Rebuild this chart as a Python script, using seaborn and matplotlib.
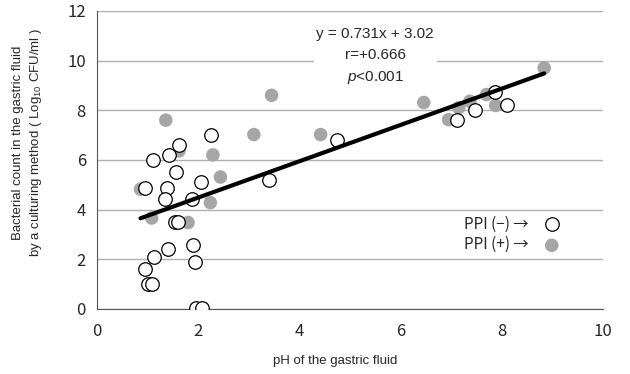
import numpy as np
import pandas as pd
import matplotlib
matplotlib.use("Agg")
import matplotlib.pyplot as plt
import seaborn as sns

# PPI (-) : open circles
ph_neg = [0.95, 1.10, 1.43, 1.63, 1.56, 1.38, 1.34, 1.88, 2.05, 2.26,
          1.54, 1.61, 1.41, 1.89, 1.93, 1.12, 0.95, 1.01, 1.08, 1.96, 2.08,
          3.39, 4.74, 7.11, 7.47, 7.87, 8.11]
cfu_neg = [4.88, 6.00, 6.20, 6.60, 5.52, 4.88, 4.42, 4.42, 5.10, 7.01,
           3.49, 3.49, 2.41, 2.59, 1.90, 2.09, 1.60, 1.00, 1.00, 0.02, 0.02,
           5.20, 6.81, 7.61, 8.02, 8.72, 8.21]

# PPI (+) : grey filled circles
ph_pos = [0.86, 1.08, 1.36, 1.62, 1.80, 2.24, 2.29, 2.44, 3.10, 3.45,
          4.42, 6.46, 6.95, 7.15, 7.37, 7.70, 7.88, 8.84]
cfu_pos = [4.82, 3.66, 7.60, 6.36, 3.48, 4.28, 6.20, 5.31, 7.02, 8.60,
           7.02, 8.31, 7.62, 8.10, 8.36, 8.63, 8.19, 9.70]

slope, intercept = 0.731, 3.02
stats_text = "y = 0.731x + 3.02\nr=+0.666\n$p$<0.001"

sns.set_style("white")
plt.rcParams['font.family'] = ['Noto Sans CJK JP', 'DejaVu Sans']
plt.rcParams['axes.unicode_minus'] = False
plt.rcParams['mathtext.fontset'] = 'custom'
plt.rcParams['mathtext.it'] = 'Liberation Sans:italic'
plt.rcParams['mathtext.rm'] = 'Liberation Sans'
arial = ['Liberation Sans', 'DejaVu Sans']

fig = plt.figure(figsize=(6.3, 3.74), dpi=100)
ax = fig.add_axes([0.154, 0.174, 0.803, 0.797])

neg = pd.DataFrame({"ph": ph_neg, "cfu": cfu_neg})
pos = pd.DataFrame({"ph": ph_pos, "cfu": cfu_pos})

sns.scatterplot(data=pos, x="ph", y="cfu", ax=ax, s=95, color="#a6a6a6",
                edgecolor="none", label="PPI (+) →", zorder=3)
sns.scatterplot(data=neg, x="ph", y="cfu", ax=ax, s=95, facecolor="white",
                edgecolor="black", linewidth=0.9, label="PPI (−) →", zorder=4)

# regression line across the data range
all_ph = np.array(ph_neg + ph_pos)
x_line = np.array([all_ph.min(), all_ph.max()])
sns.lineplot(x=x_line, y=slope * x_line + intercept, ax=ax, color="black",
             linewidth=3, zorder=5, legend=False)

ax.text(5.5, 10.15, stats_text, ha="center", va="center", fontsize=11,
        family=arial, linespacing=1.6, zorder=6,
        bbox=dict(facecolor="white", edgecolor="none", pad=2))

ax.set_xlim(0, 10)
ax.set_ylim(0, 12)
ax.set_xticks(range(0, 11, 2))
ax.set_yticks(range(0, 13, 2))
ax.yaxis.grid(True, color="#b0b0b0", linewidth=1)
ax.set_axisbelow(True)
for side in ["top", "right"]:
    ax.spines[side].set_visible(False)
for side in ["left", "bottom"]:
    ax.spines[side].set_color("#555555")
ax.tick_params(axis="y", direction="out", length=4, color="#555555", labelsize=12, pad=4)
ax.tick_params(axis="x", direction="in", length=4, color="#555555", labelsize=12, pad=10)

ax.set_xlabel("pH of the gastric fluid", fontsize=9.5, family=arial)
ax.xaxis.set_label_coords(0.47, -0.155)
ax.set_ylabel("Bacterial count in the gastric fluid\nby a culturing method ( Log$_{10}$ CFU/ml )",
              fontsize=9.5, family=arial, linespacing=1.35)
ax.yaxis.set_label_coords(-0.105, 0.557)

handles, labels = ax.get_legend_handles_labels()
ax.legend(handles[::-1], labels[::-1], loc="center right", bbox_to_anchor=(0.926, 0.25),
          frameon=False, markerfirst=False, fontsize=11, handletextpad=1.0,
          labelspacing=0.25, handlelength=1.0, borderaxespad=0)

fig.savefig("out.png", dpi=100)
